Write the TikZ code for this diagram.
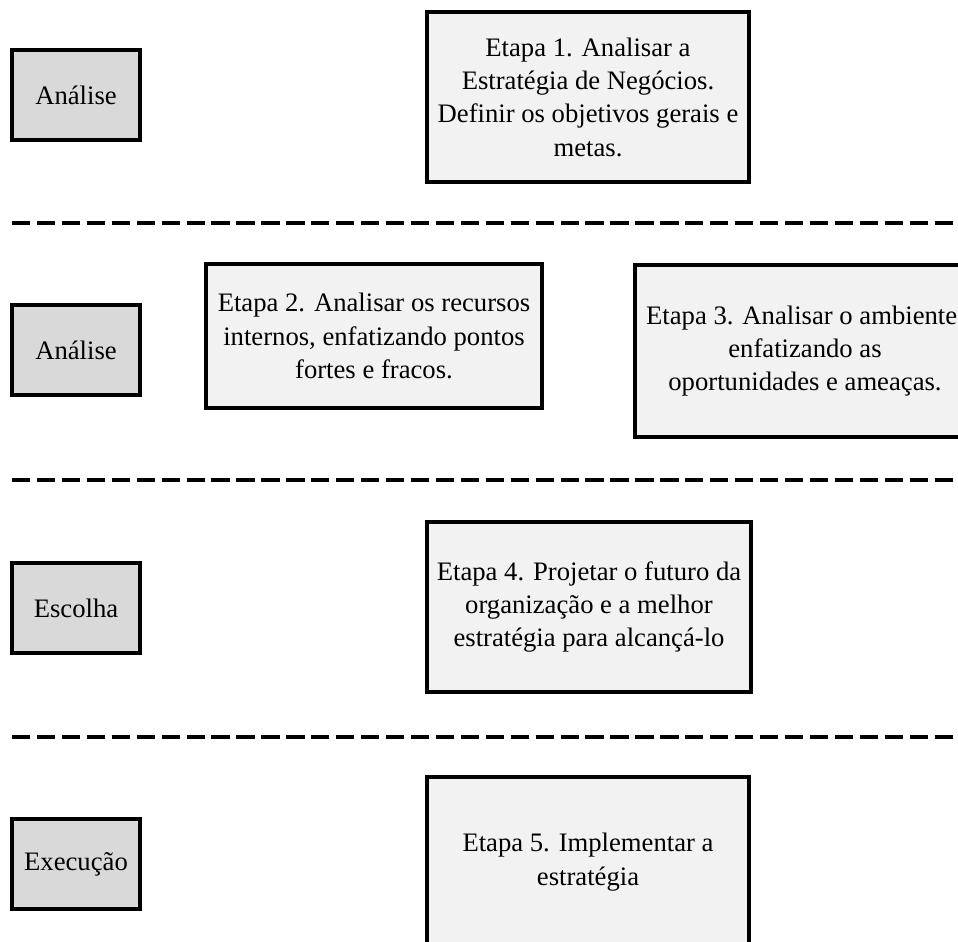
\documentclass[tikz,border=0pt]{standalone}
\usepackage{fontspec}
\setmainfont{Liberation Serif}
\usetikzlibrary{shadows}
\definecolor{phasegray}{HTML}{D9D9D9}
\definecolor{stepgray}{HTML}{F2F2F2}
\tikzset{
  boxshadow/.style={drop shadow={shadow xshift=1.6pt, shadow yshift=-1.6pt, fill=black, opacity=1}},
  phasebox/.style={draw=black, line width=3pt, fill=phasegray, boxshadow,
    minimum width=96pt, minimum height=67pt, inner sep=0pt,
    font=\fontsize{20}{25}\selectfont},
  stepbox/.style={draw=black, line width=3.2pt, fill=stepgray, boxshadow,
    inner sep=0pt, align=center, font=\fontsize{20}{25}\selectfont},
  divider/.style={line width=3.2pt, dash pattern=on 13.7pt off 5pt}
}
\begin{document}
\begin{tikzpicture}[x=0.75pt, y=-0.75pt]
  \clip (0,0) rectangle (958,942);
  \fill[white] (0,0) rectangle (958,942);

  % phase labels on the left
  \node[phasebox] (p1) at (76,95)  {Análise};
  \node[phasebox] (p2) at (76,350) {Análise};
  \node[phasebox] (p3) at (76,608) {Escolha};
  \node[phasebox] (p4) at (76,864) {Execução};

  % process steps
  \node[stepbox, minimum width=241.5pt, minimum height=127.5pt] (s1) at (588,97)
    {Etapa 1. Analisar a\\Estratégia de Negócios.\\Definir os objetivos gerais e\\metas.};
  \node[stepbox, minimum width=252pt, minimum height=108pt] (s2) at (374,336)
    {Etapa 2. Analisar os recursos\\internos, enfatizando pontos\\fortes e fracos.};
  \node[stepbox, minimum width=255pt, minimum height=129pt] (s3) at (805,351)
    {Etapa 3. Analisar o ambiente,\\enfatizando as\hspace*{42pt}\\oportunidades e ameaças.};
  \node[stepbox, minimum width=243pt, minimum height=127.5pt] (s4) at (589,607)
    {Etapa 4. Projetar o futuro da\\organização e a melhor\\estratégia para alcançá-lo};
  \node[stepbox, minimum width=241.5pt, minimum height=127.5pt] (s5) at (588,862)
    {Etapa 5. Implementar a\\estratégia};

  % dashed dividers between the stages
  \coordinate (d1a) at (12,223); \coordinate (d1b) at (958,223);
  \coordinate (d2a) at (12,480); \coordinate (d2b) at (958,480);
  \coordinate (d3a) at (12,737); \coordinate (d3b) at (958,737);
  \draw[divider] (d1a) -- (d1b);
  \draw[divider] (d2a) -- (d2b);
  \draw[divider] (d3a) -- (d3b);
\end{tikzpicture}
\end{document}
